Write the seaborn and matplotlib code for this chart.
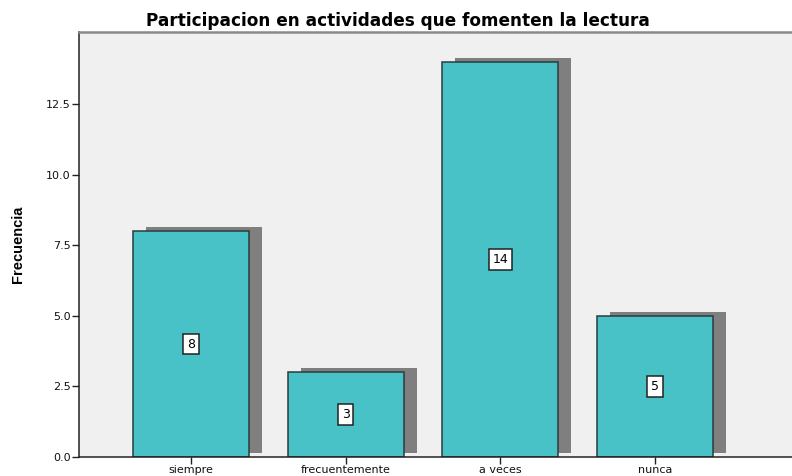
import matplotlib
matplotlib.use('Agg')
import matplotlib.pyplot as plt
import matplotlib.transforms as mtransforms
import seaborn as sns
import pandas as pd

# Data
categorias = ["siempre", "frecuentemente", "a veces", "nunca"]
frecuencias = [8, 3, 14, 5]
y_ticks = [0.0, 2.5, 5.0, 7.5, 10.0, 12.5]

df = pd.DataFrame({"categoria": categorias, "frecuencia": frecuencias})

sns.set_theme(style="white")
plt.rcParams['font.family'] = ['DejaVu Sans']
plt.rcParams['text.color'] = 'black'
plt.rcParams['axes.labelcolor'] = 'black'

fig = plt.figure(figsize=(7.92, 4.76), dpi=100)
ax = fig.add_axes([79 / 792, 19 / 476, 1 - 79 / 792, (457 - 32) / 476])
ax.set_facecolor("#F0F0F0")

# shadow bars, shifted right and up by a few pixels
sns.barplot(data=df, x="categoria", y="frecuencia", order=categorias,
            color="#7F7F7F", saturation=1, width=0.75, ax=ax, linewidth=0)
shift = mtransforms.offset_copy(ax.transData, fig=fig, x=13, y=4, units='dots')
for p in ax.patches:
    p.set_transform(shift)

# main bars
sns.barplot(data=df, x="categoria", y="frecuencia", order=categorias,
            color="#48C2C6", saturation=1, width=0.75, ax=ax,
            edgecolor="#2B3B3D", linewidth=1.1)

# value labels in the middle of each bar
for i, v in enumerate(frecuencias):
    ax.text(i, v / 2, str(v), ha="center", va="center", fontsize=9,
            color="black",
            bbox=dict(boxstyle="square,pad=0.3", facecolor="white",
                      edgecolor="#222222", linewidth=1.1))

ax.set_xlim(-0.724, 3.885)
ax.set_ylim(0, 15.05)
ax.set_yticks(y_ticks)
ax.set_yticklabels([f"{t:.1f}" for t in y_ticks])
ax.set_xlabel("")
ax.set_ylabel("Frecuencia", fontsize=10.5, fontweight="bold", color="black",
              family=['Liberation Sans Narrow', 'Liberation Sans'])
ax.yaxis.set_label_coords((25 - 79) / 713, 0.5)

ax.tick_params(axis='both', which='both', direction='out', length=5, width=1,
               color="#222222", labelsize=8, pad=1,
               bottom=True, left=True, labelcolor="#111111")

for side in ["left", "bottom"]:
    ax.spines[side].set_color("#222222")
    ax.spines[side].set_linewidth(1.1)
ax.spines["top"].set_color("#8A8A8A")
ax.spines["top"].set_linewidth(1.8)
ax.spines["right"].set_visible(False)

fig.text(0.502, 1 - 26 / 476, "Participacion en actividades que fomenten la lectura",
         ha="center", va="baseline", fontsize=12.2, fontweight="bold",
         color="black")

fig.savefig("out.png", dpi=100)
